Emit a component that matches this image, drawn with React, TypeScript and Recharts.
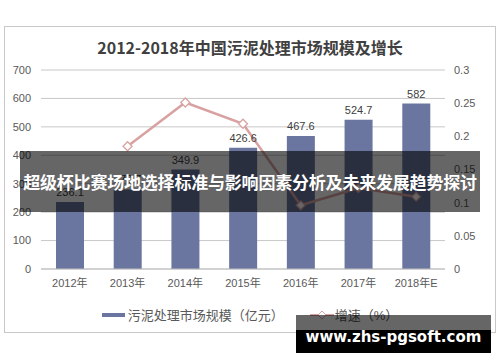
import { Bar, CartesianGrid, ComposedChart, LabelList, Legend, Line, XAxis, YAxis } from "recharts";

const years = ["2012年", "2013年", "2014年", "2015年", "2016年", "2017年", "2018年E"];
const marketSize = [236.1, 279.7, 349.9, 426.6, 467.6, 524.7, 582];
const growthRate = [null, 0.185, 0.251, 0.219, 0.096, 0.122, 0.109];
const leftTicks = [0, 100, 200, 300, 400, 500, 600, 700];
const rightTicks = [0, 0.05, 0.1, 0.15, 0.2, 0.25, 0.3];

const chartData = years.map((year, i) => ({
  year,
  size: marketSize[i],
  growth: growthRate[i],
}));

const FONT = "'Liberation Sans', 'Noto Sans CJK SC', sans-serif";
const BAR_COLOR = "#6a769f";
const LINE_COLOR = "#d9a2a2";

const Diamond = (props: any) => {
  const { cx, cy, value } = props;
  if (value == null || cx == null || cy == null) return <g />;
  const r = 4.5;
  return (
    <path
      d={`M${cx},${cy - r} L${cx + r},${cy} L${cx},${cy + r} L${cx - r},${cy} Z`}
      fill="#fff"
      stroke={LINE_COLOR}
      strokeWidth={1.3}
    />
  );
};

const LegendContent = () => (
  <div
    style={{
      display: "flex",
      justifyContent: "center",
      alignItems: "center",
      fontFamily: FONT,
      fontSize: 13,
      color: "#595959",
    }}
  >
    <span style={{ display: "inline-block", width: 23, height: 4, background: BAR_COLOR, marginRight: 3 }} />
    <span>污泥处理市场规模（亿元）</span>
    <svg width={24} height={10} style={{ marginLeft: 26, marginRight: 1 }}>
      <line x1={0} y1={5} x2={24} y2={5} stroke={LINE_COLOR} strokeWidth={2} />
      <path d="M12,1 L16,5 L12,9 L8,5 Z" fill="#fff" stroke={LINE_COLOR} strokeWidth={1} />
    </svg>
    <span>增速（%）</span>
  </div>
);

const App = () => {
  return (
    <div style={{ position: "absolute", left: 0, top: 0, width: 500, height: 362, background: "#fff", overflow: "hidden" }}>
      <div
        style={{
          position: "absolute",
          left: 4,
          top: 26,
          width: 490,
          height: 305,
          border: "1px solid #c8c8c8",
        }}
      />
      <div
        style={{
          position: "absolute",
          left: 0,
          top: 35,
          width: 500,
          textAlign: "center",
          fontFamily: "'Noto Sans CJK SC', serif",
          fontWeight: 700,
          fontSize: 16,
          color: "#404040",
        }}
      >
        2012-2018年中国污泥处理市场规模及增长
      </div>
      <div style={{ position: "absolute", left: 0, top: 0 }}>
        <ComposedChart
          width={500}
          height={362}
          data={chartData}
          margin={{ top: 70, right: 10, bottom: 63, left: 0 }}
          barCategoryGap="25%"
        >
          <CartesianGrid yAxisId="left" vertical={false} stroke="#c8c8c8" />
          <XAxis
            dataKey="year"
            tickLine={false}
            axisLine={{ stroke: "#bfbfbf" }}
            tickSize={6}
            tickMargin={4}
            height={30}
            interval={0}
            tick={{ fontSize: 11, fill: "#595959", fontFamily: FONT }}
          />
          <YAxis
            yAxisId="left"
            domain={[0, 700]}
            ticks={leftTicks}
            axisLine={false}
            tickLine={false}
            width={41}
            tickSize={6}
            tickMargin={4}
            tick={{ fontSize: 11, fill: "#595959", fontFamily: FONT }}
          />
          <YAxis
            yAxisId="right"
            orientation="right"
            domain={[0, 0.3]}
            ticks={rightTicks}
            axisLine={false}
            tickLine={false}
            width={45}
            tickSize={6}
            tickMargin={3}
            tick={{ fontSize: 11, fill: "#595959", fontFamily: FONT }}
          />
          <Legend
            layout="horizontal"
            verticalAlign="middle"
            content={<LegendContent />}
            wrapperStyle={{ top: 305, left: 0, width: 500 }}
          />
          <Bar yAxisId="left" dataKey="size" fill={BAR_COLOR} barSize={28} isAnimationActive={false}>
            <LabelList
              dataKey="size"
              position="top"
              offset={6}
              style={{ fontSize: 11, fill: "#404040", fontFamily: FONT }}
            />
          </Bar>
          <Line
            yAxisId="right"
            dataKey="growth"
            stroke={LINE_COLOR}
            strokeWidth={2.5}
            dot={<Diamond />}
            activeDot={false}
            connectNulls={false}
            isAnimationActive={false}
          />
        </ComposedChart>
      </div>
      <div
        style={{
          position: "absolute",
          left: 20,
          top: 151,
          width: 460,
          height: 61,
          background: "rgba(0,0,0,0.6)",
          color: "#fff",
          fontFamily: "'Noto Sans CJK SC', sans-serif",
          fontWeight: 700,
          fontSize: 17,
          display: "flex",
          alignItems: "center",
          justifyContent: "center",
          whiteSpace: "nowrap",
          letterSpacing: -0.2,
        }}
      >
        超级杯比赛场地选择标准与影响因素分析及未来发展趋势探讨
      </div>
      <div
        style={{
          position: "absolute",
          left: 296,
          top: 315,
          width: 195,
          height: 15,
          background: "rgba(0,0,0,0.6)",
        }}
      />
      <div
        style={{
          position: "absolute",
          left: 296,
          top: 330,
          width: 195,
          height: 23,
          background: "#000",
        }}
      />
      <div
        style={{
          position: "absolute",
          left: 296,
          top: 323,
          width: 195,
          textAlign: "center",
          color: "#fff",
          fontFamily: "'DejaVu Sans', sans-serif",
          fontWeight: 700,
          fontSize: 15,
          lineHeight: "28px",
          whiteSpace: "nowrap",
        }}
      >
        www.zhs-pgsoft.com
      </div>
    </div>
  );
};

export default App;
